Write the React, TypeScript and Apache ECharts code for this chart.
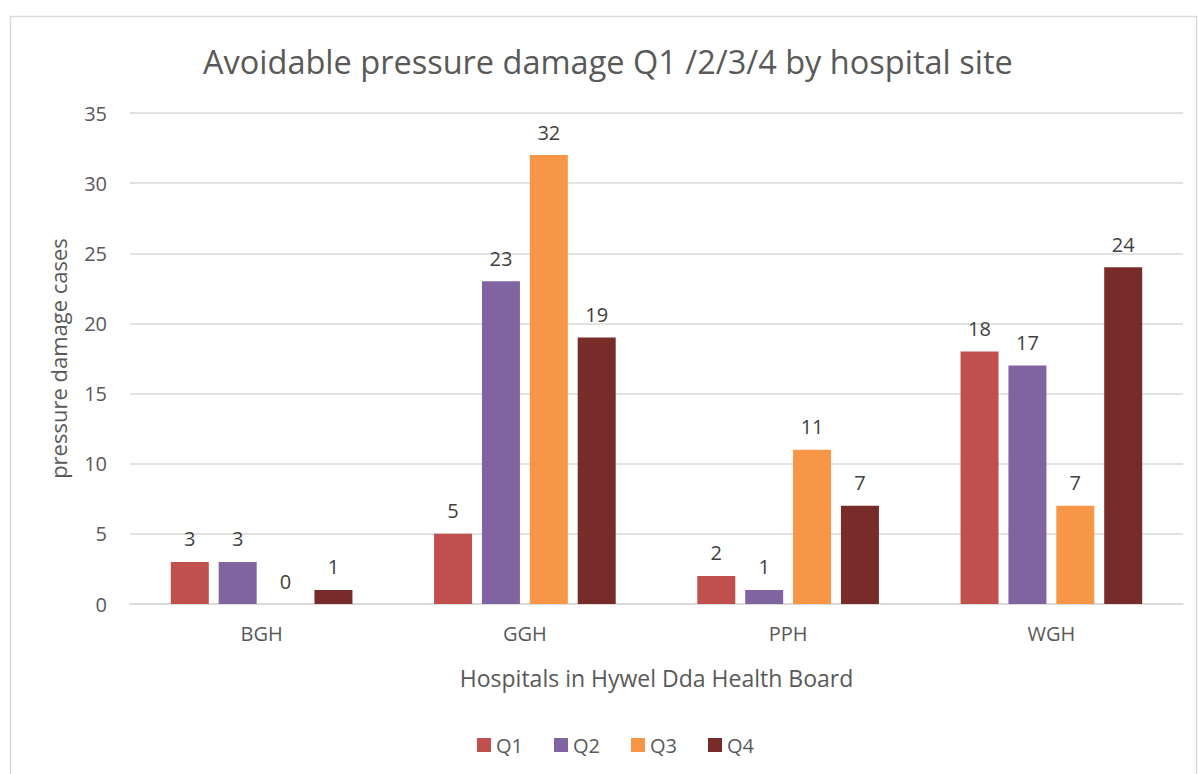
import React, { useEffect, useRef } from "react";
import * as echarts from "echarts";

const categories = ["BGH", "GGH", "PPH", "WGH"];
const seriesNames = ["Q1", "Q2", "Q3", "Q4"];
const q1 = [3, 5, 2, 18];
const q2 = [3, 23, 1, 17];
const q3 = [0, 32, 11, 7];
const q4 = [1, 19, 7, 24];
const colors = ["#C0504D", "#8064A2", "#F79646", "#772C2A"];
const yTicks = { min: 0, max: 35, interval: 5 };

const FONT = "'Open Sans', 'Noto Sans', sans-serif";

export default function App() {
  const ref = useRef<HTMLDivElement>(null);
  useEffect(() => {
    document.body.style.margin = "0";
    const chart = echarts.init(ref.current!, null, { renderer: "svg" });
    const data = [q1, q2, q3, q4];
    chart.setOption({
      animation: false,
      backgroundColor: "#ffffff",
      textStyle: { fontFamily: FONT },
      graphic: [
        {
          type: "rect",
          shape: { x: 10.5, y: 16.5, width: 1186, height: 780 },
          style: { fill: "none", stroke: "#d9d9d9", lineWidth: 1.5 },
          silent: true,
        },
      ],
      title: {
        text: "Avoidable pressure damage Q1 /2/3/4 by hospital site",
        left: 198,
        top: 40,
        padding: 5,
        textStyle: { fontFamily: FONT, fontSize: 32.5, fontWeight: "normal", color: "#595959" },
      },
      legend: {
        data: seriesNames,
        bottom: 14,
        left: 472,
        itemWidth: 14,
        itemHeight: 14,
        itemGap: 31,
        icon: "rect",
        textStyle: { fontFamily: FONT, fontSize: 20, color: "#595959" },
      },
      grid: { left: 130, right: 15, top: 113, bottom: 170, containLabel: false },
      xAxis: {
        type: "category",
        data: categories,
        name: "Hospitals in Hywel Dda Health Board",
        nameLocation: "middle",
        nameGap: 62,
        nameTextStyle: { fontFamily: FONT, fontSize: 23, color: "#595959" },
        axisLine: { show: true, lineStyle: { color: "#d9d9d9", width: 1.5 } },
        axisTick: { show: false },
        axisLabel: { fontFamily: FONT, fontSize: 20, color: "#595959", margin: 19 },
      },
      yAxis: {
        type: "value",
        min: yTicks.min,
        max: yTicks.max,
        interval: yTicks.interval,
        name: "pressure damage cases",
        nameLocation: "middle",
        nameGap: 61,
        nameTextStyle: { fontFamily: FONT, fontSize: 22, color: "#595959" },
        axisLine: { show: false },
        axisTick: { show: false },
        axisLabel: { fontFamily: FONT, fontSize: 20, color: "#595959", margin: 23 },
        splitLine: { lineStyle: { color: "#d9d9d9", width: 1.5 } },
      },
      series: seriesNames.map((name, i) => ({
        name,
        type: "bar",
        data: data[i],
        barGap: "26%",
        barCategoryGap: "31%",
        itemStyle: { color: colors[i] },
        label: {
          show: true,
          position: "top",
          distance: 13,
          fontFamily: FONT,
          fontSize: 20,
          color: "#404040",
        },
      })),
    });
    return () => chart.dispose();
  }, []);
  return <div ref={ref} style={{ width: 1198, height: 774 }} />;
}
